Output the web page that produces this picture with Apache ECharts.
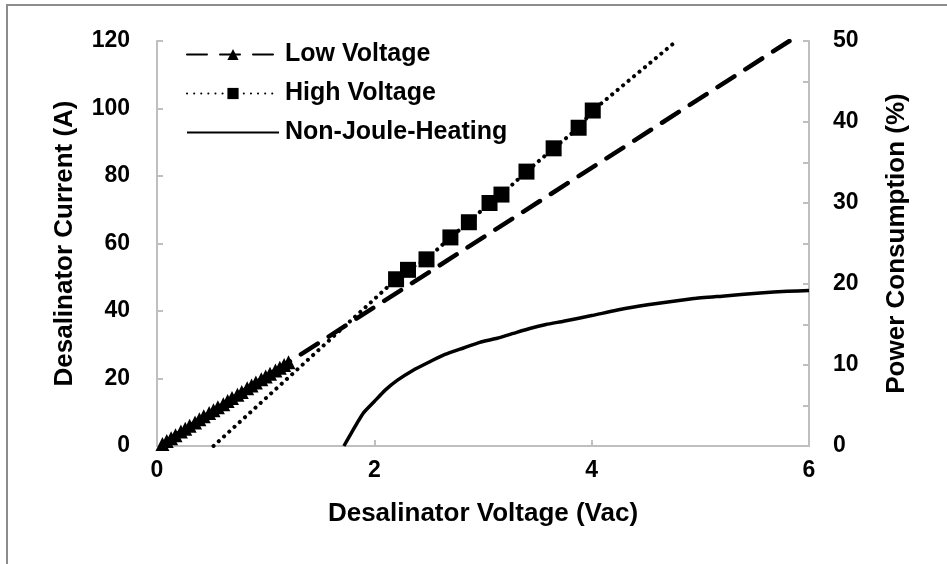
<!DOCTYPE html>
<html>
<head>
<meta charset="utf-8">
<script src="https://cdn.jsdelivr.net/npm/echarts@6/dist/echarts.min.js"></script>
<style>
  html, body { margin: 0; padding: 0; background: #fff; }
  #chart { width: 947px; height: 564px; }
</style>
</head>
<body>
<div id="chart"></div>
<script>
// Low-voltage sweep: measured points (V, A) followed by the end of the fitted line
const lowV = [0.05, 0.09, 0.13, 0.17, 0.22, 0.26, 0.30, 0.35, 0.39, 0.43, 0.48, 0.52, 0.56, 0.61,
              0.65, 0.69, 0.74, 0.78, 0.83, 0.87, 0.91, 0.96, 1.00, 1.04, 1.09, 1.13, 1.17, 1.21];
const lowI = [0.6, 1.5, 2.3, 3.2, 4.3, 5.1, 6.0, 7.0, 7.9, 8.8, 9.8, 10.6, 11.5, 12.4,
              13.3, 14.2, 15.2, 16.0, 17.1, 17.9, 18.8, 19.8, 20.6, 21.4, 22.4, 23.2, 24.0, 24.8];
const lowFitEnd = [5.82, 120];

// High-voltage sweep: measured points and the two ends of its fitted line
const highV = [2.20, 2.31, 2.48, 2.70, 2.87, 3.06, 3.17, 3.40, 3.65, 3.88, 4.01];
const highI = [49.4, 52.2, 55.3, 61.8, 66.3, 72.0, 74.5, 81.3, 88.2, 94.3, 99.4];
const highFitStart = [0.52, 0];
const highFitEnd = [4.78, 120];

// Power consumption without Joule heating (%), right axis
const njV = [1.72, 1.78, 1.84, 1.90, 2.00, 2.10, 2.21, 2.35, 2.51, 2.65, 2.82, 2.97,
             3.13, 3.28, 3.43, 3.58, 3.74, 4.00, 4.32, 4.60, 4.94, 5.20, 5.55, 5.80, 6.00];
const njP = [0.0, 1.4, 2.8, 4.1, 5.5, 6.9, 8.1, 9.3, 10.4, 11.3, 12.1, 12.8,
             13.3, 13.9, 14.5, 15.0, 15.4, 16.1, 17.0, 17.6, 18.2, 18.5, 18.9, 19.1, 19.2];

const seriesNames = ['Low Voltage', 'High Voltage', 'Non-Joule-Heating'];
const xTicks = { min: 0, max: 6, interval: 2 };
const yLeftTicks = { min: 0, max: 120, interval: 20 };
const yRightTicks = { min: 0, max: 50, interval: 10 };

const FONT = '"Liberation Sans", Arial, sans-serif';
const AXIS_GRAY = '#bfbfbf';

const lowData = lowV.map((v, i) => [v, lowI[i]]);
lowData.push({ value: lowFitEnd, symbol: 'none' });

const highData = [{ value: highFitStart, symbol: 'none' }];
highV.forEach((v, i) => highData.push([v, highI[i]]));
highData.push({ value: highFitEnd, symbol: 'none' });

const njData = njV.map((v, i) => [v, njP[i]]);

const labelStyle = { color: '#000', fontFamily: FONT, fontWeight: 'bold', fontSize: 23 };
const nameStyle = { color: '#000', fontFamily: FONT, fontWeight: 'bold', fontSize: 26 };

const chart = echarts.init(document.getElementById('chart'), null, { renderer: 'canvas' });

chart.setOption({
  animation: false,
  backgroundColor: '#fff',
  graphic: [{
    type: 'rect',
    shape: { x: 7, y: 5, width: 960, height: 580 },
    style: { fill: 'none', stroke: '#8c8c8c', lineWidth: 2 },
    silent: true, z: -1
  }],
  grid: { left: 157, right: 138, top: 41, bottom: 118, containLabel: false },
  legend: {
    orient: 'vertical',
    left: 181, top: 37,
    itemWidth: 92, itemHeight: 14, itemGap: 14,
    data: [
      { name: seriesNames[0] },
      { name: seriesNames[1] },
      { name: seriesNames[2], itemStyle: { opacity: 0 } }
    ],
    textStyle: { color: '#000', fontFamily: FONT, fontWeight: 'bold', fontSize: 25, padding: [0, 0, 0, 1] }
  },
  xAxis: {
    type: 'value',
    min: xTicks.min, max: xTicks.max, interval: xTicks.interval,
    name: 'Desalinator Voltage (Vac)', nameLocation: 'middle', nameGap: 55,
    nameTextStyle: nameStyle,
    axisLine: { show: true, onZero: false, lineStyle: { color: AXIS_GRAY, width: 2 } },
    axisTick: { show: true, inside: true, length: 6, lineStyle: { color: AXIS_GRAY, width: 2 } },
    axisLabel: Object.assign({ margin: 13 }, labelStyle),
    splitLine: { show: false }
  },
  yAxis: [{
    type: 'value',
    min: yLeftTicks.min, max: yLeftTicks.max, interval: yLeftTicks.interval,
    name: 'Desalinator Current (A)', nameLocation: 'middle', nameGap: 79, nameRotate: 90,
    nameTextStyle: nameStyle,
    axisLine: { show: true, lineStyle: { color: AXIS_GRAY, width: 2 } },
    axisTick: { show: true, inside: true, length: 6, lineStyle: { color: AXIS_GRAY, width: 2 } },
    axisLabel: Object.assign({ margin: 27 }, labelStyle),
    splitLine: { show: false }
  }, {
    type: 'value',
    position: 'right',
    min: yRightTicks.min, max: yRightTicks.max, interval: yRightTicks.interval,
    name: 'Power Consumption (%)', nameLocation: 'middle', nameGap: 75, nameRotate: 90,
    nameTextStyle: nameStyle,
    axisLine: { show: true, lineStyle: { color: AXIS_GRAY, width: 2 } },
    axisTick: { show: true, inside: true, length: 6, lineStyle: { color: AXIS_GRAY, width: 2 } },
    minorTick: { show: true, splitNumber: 2, length: 6, lineStyle: { color: AXIS_GRAY, width: 2 } },
    axisLabel: Object.assign({ margin: 24 }, labelStyle),
    splitLine: { show: false }
  }],
  series: [{
    name: seriesNames[0],
    type: 'line',
    data: lowData,
    symbol: 'triangle', symbolSize: 14,
    itemStyle: { color: '#000' },
    lineStyle: { color: '#000', width: 4.5, type: [20, 13], cap: 'round' },
    z: 3
  }, {
    name: seriesNames[1],
    type: 'line',
    data: highData,
    symbol: 'rect', symbolSize: 16,
    itemStyle: { color: '#000' },
    lineStyle: { color: '#000', width: 4, type: [0.1, 7], cap: 'round' },
    z: 4
  }, {
    name: seriesNames[2],
    type: 'line',
    yAxisIndex: 1,
    data: njData,
    smooth: 0.15,
    showSymbol: false, symbol: 'none',
    itemStyle: { color: '#000' },
    lineStyle: { color: '#000', width: 3.5, join: 'round' },
    z: 2
  }]
});
</script>
</body>
</html>
